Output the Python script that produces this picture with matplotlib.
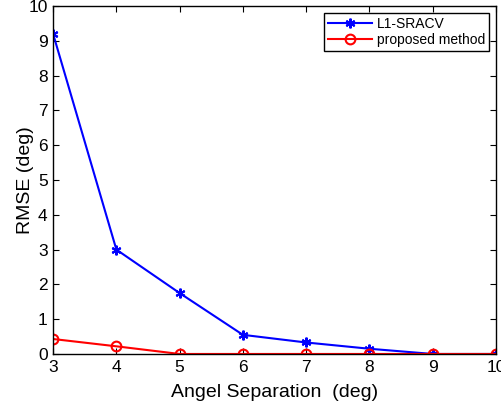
import matplotlib
matplotlib.use("Agg")
import matplotlib.pyplot as plt

plt.rcParams['font.family'] = ['Liberation Sans', 'DejaVu Sans']

angle_sep = [3, 4, 5, 6, 7, 8, 9, 10]
l1_sracv = [9.2, 3.0, 1.75, 0.55, 0.33, 0.15, 0.0, 0.0]
proposed = [0.43, 0.22, 0.0, 0.0, 0.0, 0.0, 0.0, 0.0]
xticks = [3, 4, 5, 6, 7, 8, 9, 10]
yticks = list(range(0, 11))

fig = plt.figure(figsize=(5.01, 4.05), dpi=100)
ax = fig.add_axes([0.106, 0.126, 0.884, 0.859])

ax.plot(angle_sep, l1_sracv, color='blue', marker=(6, 2, 0), markersize=7,
        markeredgewidth=1.5, linewidth=1.5, label='L1-SRACV')
ax.plot(angle_sep, proposed, color='red', marker='o', markersize=7,
        markerfacecolor='none', markeredgewidth=1.5, linewidth=1.5,
        label='proposed method')

ax.set_xlim(3, 10)
ax.set_ylim(0, 10)
ax.set_xticks(xticks)
ax.set_yticks(yticks)
ax.tick_params(direction='in', top=True, right=True, labelsize=12.5, length=4, pad=4)
for s in ax.spines.values():
    s.set_linewidth(1.0)

ax.set_xlabel('Angel Separation  (deg)', fontsize=14, labelpad=7)
ax.set_ylabel('RMSE (deg)', fontsize=14, labelpad=-4)

leg = ax.legend(loc='upper right', fontsize=10, frameon=True, fancybox=False,
                edgecolor='black', framealpha=1, handlelength=3.2,
                borderaxespad=0.5, borderpad=0.3, labelspacing=0.15, handletextpad=0.3)
leg.get_frame().set_linewidth(1.0)

fig.savefig('out.png', dpi=100)
